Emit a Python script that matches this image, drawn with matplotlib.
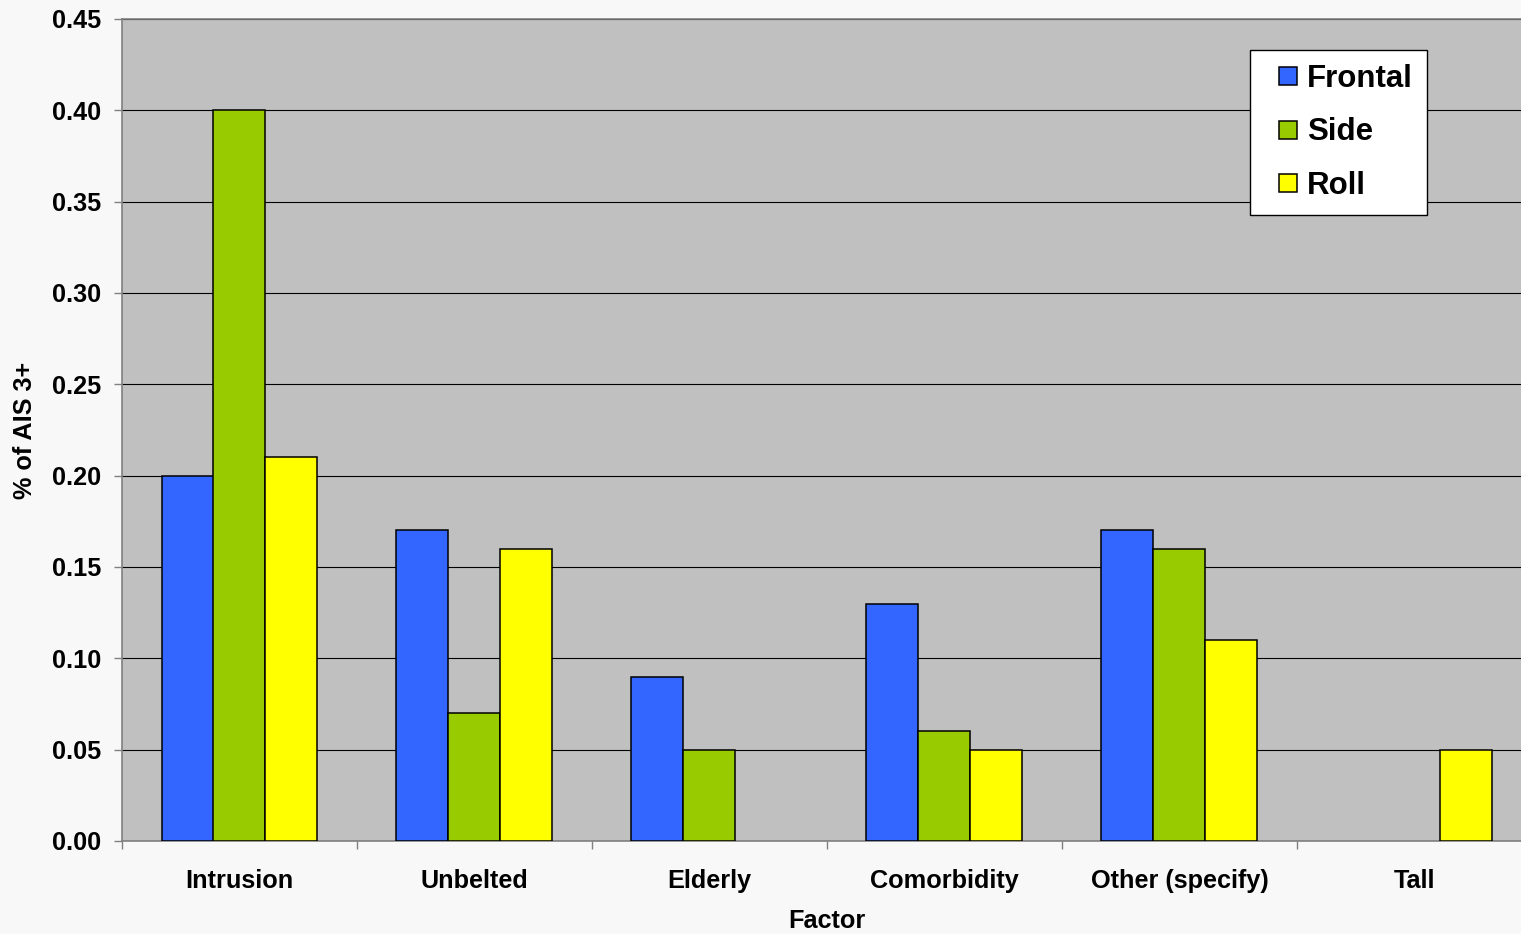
import matplotlib
matplotlib.use("Agg")
import matplotlib.pyplot as plt
from matplotlib.legend_handler import HandlerPatch
from matplotlib.patches import Rectangle
import numpy as np

factors = ["Intrusion", "Unbelted", "Elderly", "Comorbidity", "Other (specify)", "Tall"]
frontal = [0.20, 0.17, 0.09, 0.13, 0.17, np.nan]
side = [0.40, 0.07, 0.05, 0.06, 0.16, np.nan]
roll = [0.21, 0.16, np.nan, 0.05, 0.11, 0.05]

series = [("Frontal", frontal, "#3366FF"),
          ("Side", side, "#99CC00"),
          ("Roll", roll, "#FFFF00")]

plt.rcParams["font.family"] = ["Liberation Sans", "DejaVu Sans"]
plt.rcParams["font.weight"] = "bold"


def square_patch(legend, orig_handle, xdescent, ydescent, width, height, fontsize):
    # small square key pushed to the right end of the handle box
    size = 0.58 * fontsize
    return Rectangle((-xdescent + width - size, -ydescent + (height - size) / 2),
                     size, size)


fig = plt.figure(figsize=(15.21, 9.34), dpi=100, facecolor="#F8F8F8")
ax = fig.add_axes([122 / 1521, 93 / 934, 1410 / 1521, 822 / 934])
ax.set_facecolor("#C0C0C0")

x = np.arange(len(factors))
w = 52 / 235
handles = []
for i, (name, vals, col) in enumerate(series):
    bars = ax.bar(x + (i - 1) * w, vals, width=w, color=col, edgecolor="black",
                  linewidth=1.1, label=name, zorder=3)
    handles.append(bars.patches[0])

ax.set_ylim(0, 0.45)
ax.set_xlim(-0.5, len(factors) - 0.5)
ax.set_yticks(np.arange(0, 0.451, 0.05))
ax.set_yticklabels(["%.2f" % v for v in np.arange(0, 0.451, 0.05)])
ax.yaxis.grid(True, color="black", linewidth=0.8, zorder=1)
ax.set_axisbelow(True)

ax.set_xticks(x)
ax.set_xticklabels(factors)
ax.set_xticks(np.arange(-0.5, len(factors), 1.0), minor=True)
ax.tick_params(axis="x", which="major", length=0, pad=20, labelsize=18.2)
ax.tick_params(axis="x", which="minor", length=6, color="#808080", width=1)
ax.tick_params(axis="y", length=6, color="#808080", width=1, pad=9, labelsize=18.2)

for s in ["left", "bottom", "top"]:
    ax.spines[s].set_color("#808080")
    ax.spines[s].set_linewidth(1.2)
ax.spines["right"].set_visible(False)

ax.set_xlabel("Factor", fontsize=18.2, fontweight="bold", labelpad=12)
ax.set_ylabel("% of AIS 3+", fontsize=18.2, fontweight="bold", labelpad=11)

leg = ax.legend(handles, [s[0] for s in series],
                loc="upper left", bbox_to_anchor=(1250 / 1521, 1 - 50 / 934),
                bbox_transform=fig.transFigure, fontsize=22.5, frameon=True,
                fancybox=False, edgecolor="black", facecolor="white", framealpha=1,
                handlelength=1.05, handleheight=0.7, handletextpad=0.33,
                labelspacing=0.75, borderpad=0.45, borderaxespad=0,
                handler_map={Rectangle: HandlerPatch(patch_func=square_patch)})
leg.get_frame().set_linewidth(1.0)
for t in leg.get_texts():
    t.set_fontweight("bold")

fig.savefig("out.png", dpi=100, facecolor=fig.get_facecolor())
